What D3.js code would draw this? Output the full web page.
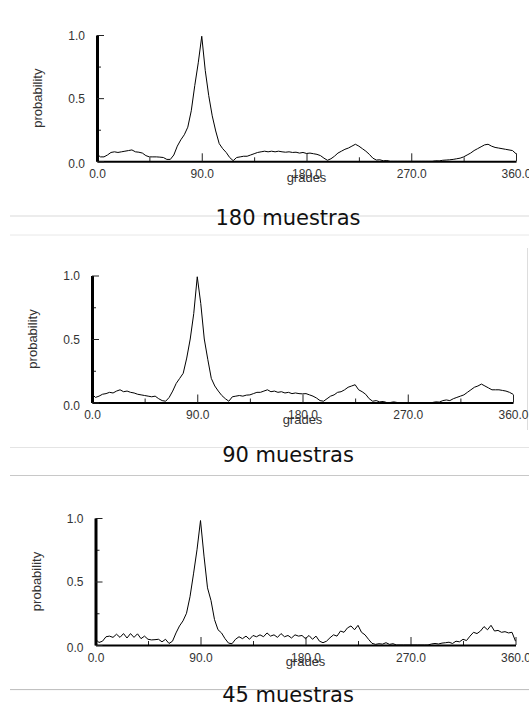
<!DOCTYPE html>
<html>
<head>
<meta charset="utf-8">
<script src="https://cdn.jsdelivr.net/npm/d3@7"></script>
<style>
  html, body { margin: 0; padding: 0; background: #fff; }
  svg { display: block; }
</style>
</head>
<body>
<svg id="chart" width="529" height="706"></svg>
<script>
// ---------- data ----------
const angles = [0,3,6,9,12,15,18,21,24,27,30,33,36,39,42,45,48,51,54,57,60,63,66,69,72,75,78,81,84,87,
  90,93,96,99,102,105,108,111,114,117,120,123,126,129,132,135,138,141,144,147,150,153,156,159,162,165,168,171,174,177,
  180,183,186,189,192,195,198,201,204,207,210,213,216,219,222,225,228,231,234,237,240,243,246,249,252,255,258,261,264,267,
  270,273,276,279,282,285,288,291,294,297,300,303,306,309,312,315,318,321,324,327,330,333,336,339,342,345,348,351,354,357,360];

const p180 = [0.055,0.035,0.035,0.05,0.07,0.075,0.07,0.075,0.08,0.085,0.09,0.075,0.072,0.065,0.045,0.035,0.035,0.035,0.033,0.03,
  0.015,0.015,0.05,0.12,0.17,0.21,0.27,0.40,0.60,0.78,
  0.99,0.72,0.52,0.36,0.24,0.14,0.10,0.07,0.03,0.005,0.03,0.035,0.04,0.04,0.05,0.06,0.07,0.075,0.08,0.075,
  0.08,0.075,0.08,0.075,0.072,0.075,0.07,0.072,0.065,0.07,
  0.062,0.065,0.06,0.055,0.045,0.025,0.008,0.02,0.04,0.065,0.08,0.095,0.105,0.12,0.135,0.12,0.1,0.08,0.055,0.025,
  0.01,0.012,0.004,0.006,0,0,0,0,0,0,
  0,0,0,0,0,0,0,0.004,0.003,0.008,0.01,0.012,0.015,0.02,0.025,0.035,0.05,0.065,0.085,0.1,
  0.115,0.13,0.135,0.12,0.11,0.105,0.1,0.095,0.09,0.085,0.06];

const p90 = [0.065,0.04,0.05,0.065,0.07,0.08,0.075,0.09,0.1,0.085,0.09,0.08,0.075,0.065,0.06,0.055,0.05,0.045,0.05,0.03,
  0.015,0.01,0.04,0.09,0.15,0.19,0.23,0.35,0.5,0.7,
  0.99,0.78,0.5,0.34,0.19,0.13,0.09,0.055,0.03,0.01,0.045,0.05,0.055,0.05,0.058,0.06,0.07,0.08,0.08,0.09,
  0.1,0.085,0.09,0.08,0.085,0.075,0.08,0.07,0.075,0.07,
  0.068,0.07,0.06,0.05,0.035,0.015,0.01,0.03,0.05,0.06,0.08,0.085,0.1,0.12,0.13,0.14,0.1,0.085,0.065,0.03,
  0.01,0.015,0.005,0.008,0,0,0.005,0,0,0,
  0,0,0,0,0,0,0,0,0.005,0.003,0.015,0.02,0.015,0.03,0.04,0.05,0.06,0.08,0.1,0.12,
  0.13,0.145,0.13,0.115,0.1,0.1,0.1,0.095,0.09,0.08,0.065];

const p45 = [0.045,0.02,0.03,0.065,0.07,0.06,0.085,0.06,0.09,0.055,0.09,0.06,0.088,0.05,0.07,0.045,0.04,0.042,0.045,0.025,
  0.045,0.012,0.03,0.095,0.15,0.19,0.25,0.38,0.56,0.75,
  0.98,0.7,0.45,0.35,0.2,0.12,0.095,0.05,0.015,0.01,0.045,0.065,0.05,0.07,0.045,0.075,0.065,0.08,0.065,0.095,
  0.07,0.08,0.06,0.09,0.065,0.075,0.055,0.08,0.07,0.075,
  0.05,0.075,0.045,0.07,0.03,0.018,0.03,0.057,0.08,0.07,0.11,0.1,0.135,0.15,0.12,0.155,0.1,0.08,0.045,0.013,
  0.005,0.01,0.007,0.018,0.005,0.01,0,0,0,0,
  0,0,0,0,0,0,0.008,0.012,0.008,0.015,0.018,0.022,0.012,0.03,0.025,0.045,0.035,0.07,0.1,0.09,
  0.11,0.145,0.12,0.155,0.11,0.115,0.1,0.105,0.095,0.1,0.03];

const titles = ["180 muestras", "90 muestras", "45 muestras"];
const seriesList = [p180, p90, p45];
const xMajorTicks = [0, 90, 180, 270, 360];
const xMinorTicks = [45, 135, 225, 315];
const yMajorTicks = [0, 0.5, 1.0];
const yMinorTicks = [0.25, 0.75];
const xTitle = "grades";
const yTitle = "probability";

// ---------- layout ----------
const layout = [
  { left: 97,   right: 516,   top: 35,    bottom: 161.3, titleY: 225, lines: [[216, "#d9d9d9"], [235, "#e8e8e8"]] },
  { left: 92,   right: 513,   top: 275.5, bottom: 402.5, titleY: 462, lines: [[447.5, "#e4e4e4"], [475.5, "#c8c8c8"]] },
  { left: 95.5, right: 515.5, top: 518,   bottom: 645,   titleY: 702, lines: [[689.6, "#bbbbbb"]] }
];

const svg = d3.select("#chart");
const tickFont = "'Liberation Sans', Arial, sans-serif";

// vertical separator at the right of the middle panel
svg.append("line").attr("x1", 527.5).attr("x2", 527.5).attr("y1", 248).attr("y2", 430)
  .attr("stroke", "#dddddd").attr("stroke-width", 1);

layout.forEach((L, i) => {
  const data = seriesList[i];
  const x = d3.scaleLinear().domain([0, 360]).range([L.left, L.right]);
  const y = d3.scaleLinear().domain([0, 1]).range([L.bottom, L.top]);
  const g = svg.append("g");

  // separator lines
  L.lines.forEach(([ly, col]) => {
    g.append("line").attr("x1", 10).attr("x2", 529).attr("y1", ly).attr("y2", ly)
      .attr("stroke", col).attr("stroke-width", 1);
  });

  // title
  g.append("text").attr("x", 288).attr("y", L.titleY).attr("text-anchor", "middle")
    .attr("font-family", "'DejaVu Sans', sans-serif").attr("font-size", 21).attr("fill", "#111")
    .text(titles[i]);

  // x axis: minor ticks
  g.append("g").attr("transform", `translate(0,${L.bottom})`)
    .call(d3.axisBottom(x).tickValues(xMinorTicks).tickSize(-4).tickSizeOuter(0).tickFormat(""))
    .call(a => a.select(".domain").remove())
    .call(a => a.selectAll(".tick line").attr("stroke", "#222"));

  // x axis: major ticks + labels
  g.append("g").attr("transform", `translate(0,${L.bottom})`)
    .call(d3.axisBottom(x).tickValues(xMajorTicks).tickSize(-8).tickSizeOuter(0).tickPadding(8)
      .tickFormat(d3.format(".1f")))
    .call(a => a.select(".domain").attr("stroke", "#000").attr("stroke-width", 2))
    .call(a => a.selectAll(".tick line").attr("stroke", "#222"))
    .call(a => a.selectAll(".tick text").attr("font-family", tickFont).attr("font-size", 12).attr("fill", "#333"));

  // y axis: minor ticks
  g.append("g").attr("transform", `translate(${L.left},0)`)
    .call(d3.axisLeft(y).tickValues(yMinorTicks).tickSize(-4).tickSizeOuter(0).tickFormat(""))
    .call(a => a.select(".domain").remove())
    .call(a => a.selectAll(".tick line").attr("stroke", "#222"));

  // y axis: major ticks + labels
  g.append("g").attr("transform", `translate(${L.left},0)`)
    .call(d3.axisLeft(y).tickValues(yMajorTicks).tickSize(-7).tickSizeOuter(0).tickPadding(12)
      .tickFormat(d3.format(".1f")))
    .call(a => a.select(".domain").attr("stroke", "#000").attr("stroke-width", 3))
    .call(a => a.selectAll(".tick line").attr("stroke", "#222"))
    .call(a => a.selectAll(".tick text").attr("font-family", tickFont).attr("font-size", 12).attr("fill", "#333")
      .attr("dy", d => d === 0 ? "0.55em" : "0.36em"));

  // axis titles
  g.append("text").attr("x", (L.left + L.right) / 2).attr("y", L.bottom + 21).attr("text-anchor", "middle")
    .attr("font-family", tickFont).attr("font-size", 13).attr("fill", "#333").text(xTitle);
  g.append("text").attr("transform", `translate(${L.left - 55},${(L.top + L.bottom) / 2}) rotate(-90)`)
    .attr("text-anchor", "middle")
    .attr("font-family", tickFont).attr("font-size", 13).attr("fill", "#333").text(yTitle);

  // curve
  const line = d3.line().x((d, k) => x(angles[k])).y(d => y(d));
  g.append("path").datum(data).attr("d", line).attr("fill", "none")
    .attr("stroke", "#000").attr("stroke-width", 1).attr("stroke-linejoin", "miter");
});
</script>
</body>
</html>
